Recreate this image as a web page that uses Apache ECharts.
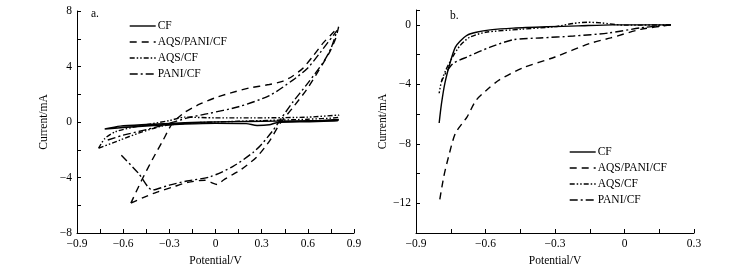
<!DOCTYPE html>
<html>
<head>
<meta charset="utf-8">
<script src="https://cdn.jsdelivr.net/npm/echarts@6/dist/echarts.min.js"></script>
<style>
  html, body { margin: 0; padding: 0; background: #fff; }
  #chart { width: 755px; height: 274px; }
</style>
</head>
<body>
<div id="chart"></div>
<script>
// series names, shared by both panels
const names = ["CF", "AQS/PANI/CF", "AQS/CF", "PANI/CF"];

// panel a: cyclic voltammetry, [potential V, current mA] in scan order
const cvCF = [
  [-0.72, -0.5], [-0.62, -0.3], [-0.45, -0.18], [-0.3, -0.1], [-0.1, -0.02], [0.1, 0.02],
  [0.3, 0.05], [0.5, 0.08], [0.7, 0.12], [0.8, 0.18], [0.79, 0.08], [0.6, 0.02],
  [0.4, -0.05], [0.35, -0.2], [0.27, -0.25], [0.2, -0.12], [0.0, -0.1], [-0.2, -0.15],
  [-0.4, -0.25], [-0.6, -0.4], [-0.72, -0.5]
];
const cvAqsPani = [
  [-0.55, -5.85], [-0.48, -4.2], [-0.41, -2.7], [-0.34, -1.3], [-0.28, -0.1], [-0.2, 0.7],
  [-0.1, 1.3], [0.0, 1.75], [0.1, 2.1], [0.22, 2.45], [0.35, 2.7], [0.44, 2.95],
  [0.5, 3.3], [0.57, 3.9], [0.63, 4.7], [0.7, 5.7], [0.76, 6.4], [0.8, 6.85],
  [0.78, 6.0], [0.74, 5.0], [0.67, 3.7], [0.59, 2.3], [0.5, 1.0], [0.42, -0.1],
  [0.355, -1.3], [0.27, -2.5], [0.17, -3.4], [0.11, -3.8], [0.05, -4.2], [0.01, -4.5],
  [-0.03, -4.35], [-0.07, -4.2], [-0.18, -4.35], [-0.28, -4.7], [-0.38, -5.05],
  [-0.47, -5.45], [-0.55, -5.85]
];
const cvAqs = [
  [-0.76, -1.9], [-0.72, -1.2], [-0.65, -0.7], [-0.5, -0.3], [-0.3, 0.1], [-0.2, 0.35],
  [0.0, 0.3], [0.3, 0.3], [0.6, 0.35], [0.8, 0.5], [0.8, 0.35], [0.6, 0.2], [0.3, 0.1],
  [0.0, 0.0], [-0.2, -0.1], [-0.35, -0.3], [-0.5, -0.8], [-0.62, -1.3], [-0.76, -1.9]
];
const cvPani = [
  [-0.7, -1.3], [-0.6, -0.95], [-0.45, -0.55], [-0.3, -0.1], [-0.18, 0.3], [-0.05, 0.6],
  [0.15, 1.1], [0.35, 1.9], [0.5, 3.0], [0.6, 3.9], [0.68, 5.0], [0.79, 6.6],
  [0.75, 5.3], [0.7, 4.3], [0.6, 2.8], [0.5, 1.4], [0.43, 0.3], [0.374, -0.6],
  [0.3, -1.6], [0.244, -2.2], [0.114, -3.2], [-0.035, -3.95], [-0.185, -4.25],
  [-0.3, -4.55], [-0.41, -4.9], [-0.5, -3.7], [-0.62, -2.3]
];

// panel b: linear sweep, [potential V, current mA]
const lsCF = [
  [0.2, 0], [-0.05, 0], [-0.2, -0.07], [-0.335, -0.13], [-0.48, -0.22], [-0.58, -0.34],
  [-0.64, -0.5], [-0.68, -0.7], [-0.71, -1.1], [-0.73, -1.5], [-0.75, -2.4],
  [-0.775, -3.9], [-0.79, -5.3], [-0.8, -6.6]
];
const lsAqsPani = [
  [0.2, 0], [0.07, -0.3], [-0.06, -0.88], [-0.15, -1.25], [-0.3, -2.16], [-0.44, -2.9],
  [-0.54, -3.7], [-0.585, -4.25], [-0.64, -5.06], [-0.68, -6.2], [-0.73, -7.3],
  [-0.76, -8.9], [-0.78, -10.2], [-0.8, -12.0]
];
const lsAqs = [
  [0.2, 0], [0.0, -0.02], [-0.1, 0.13], [-0.16, 0.18], [-0.22, 0.1], [-0.3, -0.12],
  [-0.45, -0.3], [-0.6, -0.5], [-0.67, -0.85], [-0.71, -1.4], [-0.74, -2.1],
  [-0.77, -3.0], [-0.79, -3.8], [-0.8, -4.6]
];
const lsPani = [
  [0.2, 0], [0.07, -0.2], [-0.07, -0.55], [-0.22, -0.75], [-0.365, -0.88], [-0.48, -1.0],
  [-0.58, -1.5], [-0.68, -2.16], [-0.74, -2.6], [-0.77, -3.2], [-0.79, -3.8]
];

// tick label steps
const xLabelStep = 0.3;
const yLabelStepA = 4;
const yLabelStepB = 4;

const font = "Liberation Serif";
const fontSize = 11.5;
const dashes = {
  "CF": "solid",
  "AQS/PANI/CF": [7, 5],
  "AQS/CF": [5, 2, 1.5, 2, 1.5, 2],
  "PANI/CF": [8, 3, 2, 3]
};

function minusFmt(v, step, digits) {
  const k = Math.round(v / step);
  if (Math.abs(k * step - v) > 1e-6) return "";
  const s = Math.abs(v).toFixed(digits);
  if (+s === 0) return "0";
  return (v < 0 ? "\u2212" : "") + s;
}

function xAxis(idx, min, max) {
  return {
    type: "value", gridIndex: idx, min: min, max: max, interval: 0.15,
    name: "Potential/V", nameLocation: "middle", nameGap: 20,
    nameTextStyle: { fontFamily: font, fontSize: fontSize, color: "#000" },
    axisLine: { show: true, onZero: false, lineStyle: { color: "#000", width: 1 } },
    axisTick: { show: true, inside: true, length: 4, lineStyle: { color: "#000" } },
    axisLabel: { margin: 5, fontFamily: font, fontSize: fontSize, color: "#000",
      showMinLabel: true, showMaxLabel: true,
      formatter: v => minusFmt(v, xLabelStep, 1) },
    splitLine: { show: false }
  };
}

function yAxis(idx, min, max, step) {
  return {
    type: "value", gridIndex: idx, min: min, max: max, interval: 2,
    name: "Current/mA", nameLocation: "middle", nameGap: 27, nameRotate: 90,
    nameTextStyle: { fontFamily: font, fontSize: fontSize, color: "#000" },
    axisLine: { show: true, onZero: false, lineStyle: { color: "#000", width: 1 } },
    axisTick: { show: true, inside: true, length: 4, lineStyle: { color: "#000" } },
    axisLabel: { margin: 5, fontFamily: font, fontSize: fontSize, color: "#000",
      showMinLabel: true, showMaxLabel: true,
      formatter: v => minusFmt(v, step, 0) },
    splitLine: { show: false }
  };
}

function toSerie(name, data, idx) {
  return {
    type: "line", name: name, data: data,
    xAxisIndex: idx, yAxisIndex: idx,
    symbol: "none", smooth: 0.25,
    lineStyle: { color: "#000", width: 1.4, type: dashes[name] },
    itemStyle: { color: "#000" },
    animation: false
  };
}

function legend(left, top) {
  return {
    data: names, orient: "vertical", left: left, top: top,
    itemWidth: 26, itemHeight: 8, itemGap: 4, padding: 0,
    itemStyle: { opacity: 0 },
    lineStyle: { width: 1.4 },
    textStyle: { fontFamily: font, fontSize: fontSize, color: "#000", padding: [0, 0, 0, -3] },
    selectedMode: false
  };
}

const chart = echarts.init(document.getElementById("chart"), null, { renderer: "canvas" });
chart.setOption({
  animation: false,
  backgroundColor: "#fff",
  grid: [
    { left: 77, top: 11, width: 277, height: 222 },
    { left: 416, top: 10, width: 278, height: 223 }
  ],
  xAxis: [xAxis(0, -0.9, 0.9), xAxis(1, -0.9, 0.3)],
  yAxis: [yAxis(0, -8, 8, yLabelStepA), yAxis(1, -14, 1, yLabelStepB)],
  legend: [legend(129, 20), legend(569, 146)],
  graphic: [
    { type: "text", left: 91, top: 8, style: { text: "a.", font: fontSize + "px " + font, fill: "#000" } },
    { type: "text", left: 450, top: 10, style: { text: "b.", font: fontSize + "px " + font, fill: "#000" } }
  ],
  series: [
    toSerie("CF", cvCF, 0),
    toSerie("AQS/PANI/CF", cvAqsPani, 0),
    toSerie("AQS/CF", cvAqs, 0),
    toSerie("PANI/CF", cvPani, 0),
    toSerie("CF", lsCF, 1),
    toSerie("AQS/PANI/CF", lsAqsPani, 1),
    toSerie("AQS/CF", lsAqs, 1),
    toSerie("PANI/CF", lsPani, 1)
  ]
});
</script>
</body>
</html>
